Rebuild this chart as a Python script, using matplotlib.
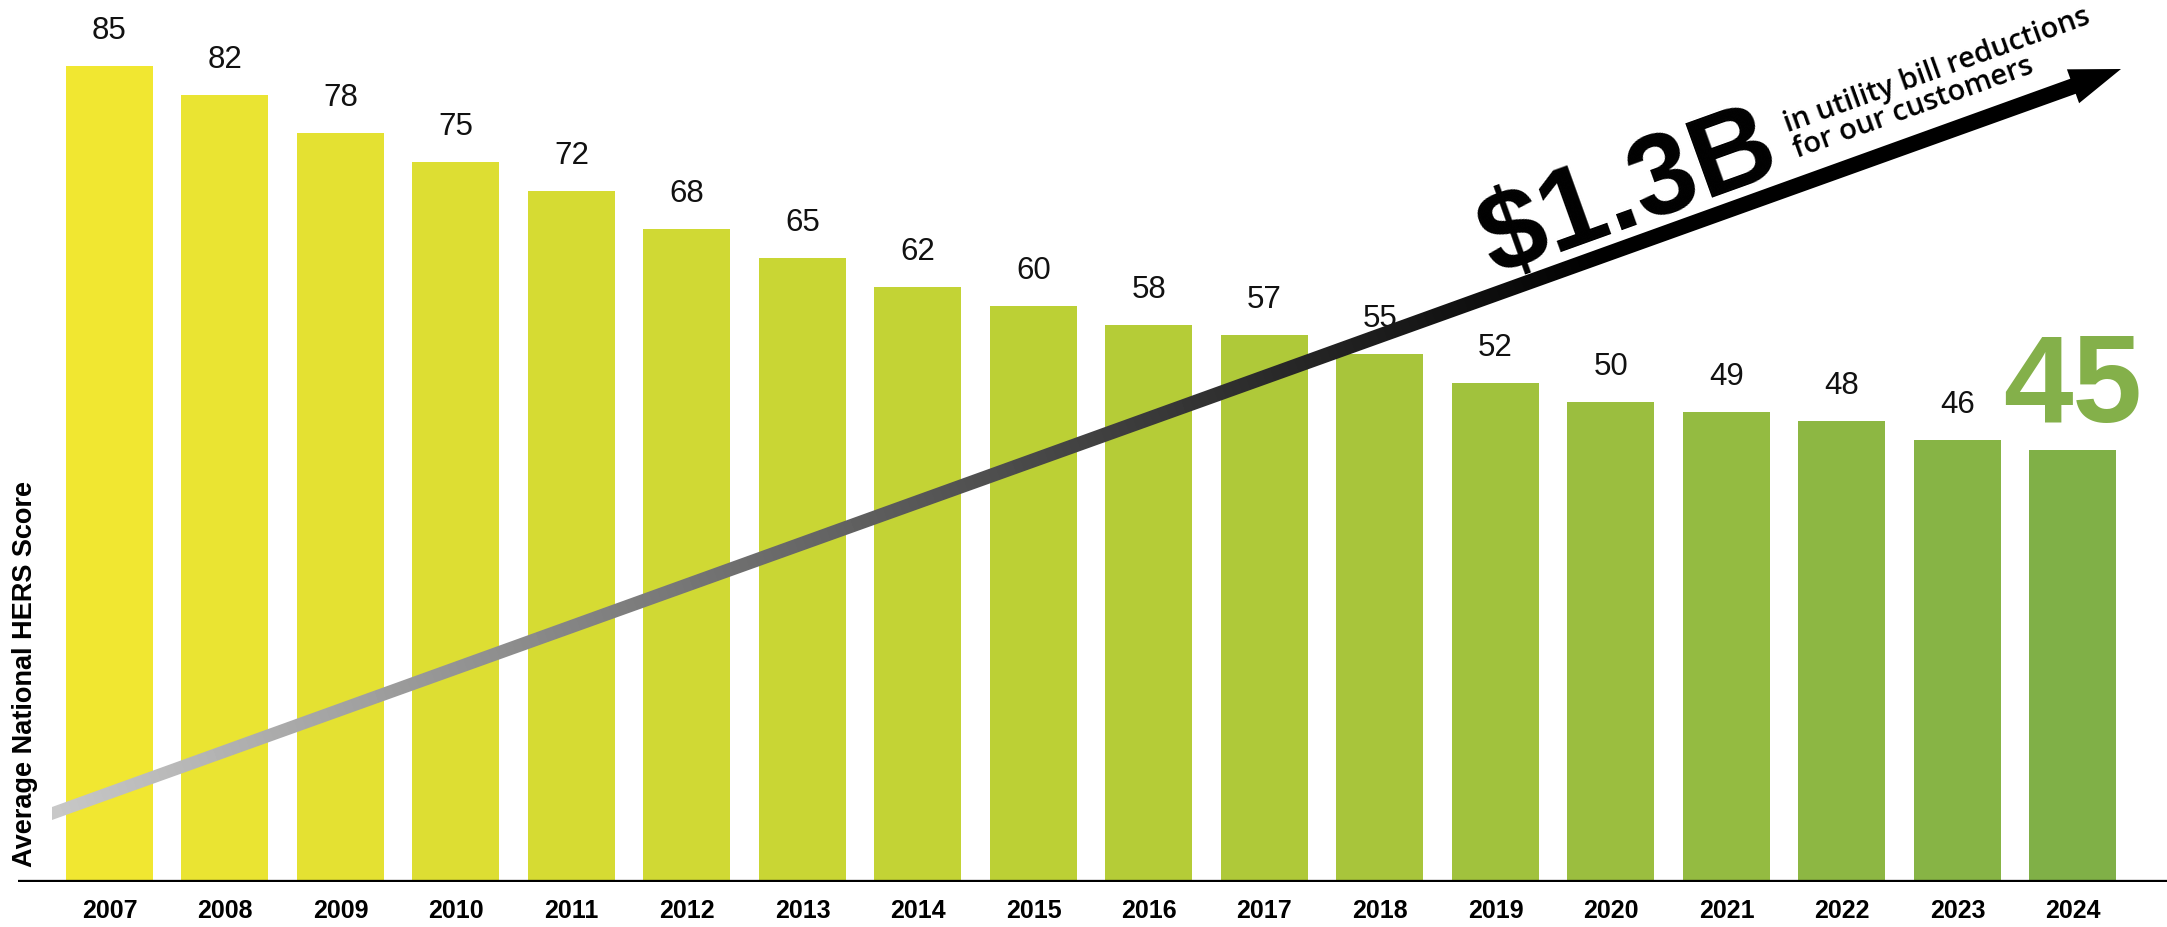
import matplotlib
matplotlib.use("Agg")
import matplotlib.pyplot as plt
import numpy as np
from matplotlib.colors import LinearSegmentedColormap
from matplotlib.patches import Polygon

years = ["2007", "2008", "2009", "2010", "2011", "2012", "2013", "2014", "2015",
         "2016", "2017", "2018", "2019", "2020", "2021", "2022", "2023", "2024"]
scores = [85, 82, 78, 75, 72, 68, 65, 62, 60, 58, 57, 55, 52, 50, 49, 48, 46, 45]
y_title = "Average National HERS Score"
callout_amount = "$1.3B"
callout_lines = ["in utility bill reductions", "for our customers"]

W, H = 2167, 927
FONT = "Liberation Sans"
GREEN = "#84b04a"
plt.rcParams["font.family"] = [FONT, "DejaVu Sans"]

fig = plt.figure(figsize=(W / 100, H / 100), dpi=100)
ax = fig.add_axes([18 / W, 45 / H, 1 - 18 / W, 882 / H])

bar_cmap = LinearSegmentedColormap.from_list(
    "hers", [(0, "#f1e731"), (0.47, "#bcd035"), (1, "#80b047")])
x = np.arange(len(years))
cols = bar_cmap(np.linspace(0, 1, len(years)))
ax.bar(x, scores, width=0.753, color=cols, zorder=2)
ax.set_xlim(-0.792, 17.814)
ax.set_ylim(0, 91.875)
for s in ax.spines.values():
    s.set_visible(False)
ax.axhline(0, color="black", lw=3.8, zorder=3)
ax.set_yticks([])
ax.set_xticks(x, years, fontsize=18, fontweight="bold")
ax.tick_params(axis="x", length=0, pad=12)
ax.set_ylabel(y_title, fontsize=19.5, fontweight="bold")
ax.yaxis.set_label_coords(0.0095, 0.236)

# value labels; the latest year gets the big green number
for i, v in enumerate(scores):
    if i == len(scores) - 1:
        ax.annotate(str(v), (i, v), xytext=(0, 20), textcoords="offset points",
                    ha="center", va="baseline", fontsize=90, fontweight="bold",
                    color=GREEN)
    else:
        ax.annotate(str(v), (i, v), xytext=(0, 19.5), textcoords="offset points",
                    ha="center", va="baseline", fontsize=22.5, color="#111111")

# overlay in pixel space for the savings arrow
ov = fig.add_axes([0, 0, 1, 1], zorder=5)
ov.patch.set_visible(False)
ov.axis("off")

tail = np.array([52.0, 813.5])
tip = np.array([2121.0, 69.0])
d = tip - tail
L = np.hypot(*d)
u = d / L
n = np.array([-u[1], u[0]])
base = tip - 51 * u
pts = [tail + [0, -6.5], base - 8 * n, base - 18 * n, tip,
       base + 18 * n, base + 8 * n, tail + [0, 6.5]]

gx, gy = np.meshgrid(np.linspace(0, W, 700), np.linspace(0, H, 300))
t = ((gx - tail[0]) * u[0] + (gy - tail[1]) * u[1]) / L
arrow_cmap = LinearSegmentedColormap.from_list(
    "arr", [(0, "#c8c8c8"), (0.53, "#3a3a3a"), (0.75, "#000000"), (1, "#000000")])
im = ov.imshow(t, cmap=arrow_cmap, vmin=0, vmax=1, extent=(0, W, H, 0),
               origin="upper", aspect="auto", interpolation="bilinear")
poly = Polygon(pts, closed=True, facecolor="none", edgecolor="none")
ov.add_patch(poly)
im.set_clip_path(poly)
ov.set_xlim(0, W)
ov.set_ylim(H, 0)

ang = np.degrees(np.arctan2(-d[1], d[0]))
ov.text(1494, 276, callout_amount, rotation=ang, rotation_mode="anchor",
        ha="left", va="baseline", fontsize=83, fontweight="bold", color="black")
for (px, py), line in zip([(1788, 132), (1797, 158)], callout_lines):
    ov.text(px, py, line, rotation=ang, rotation_mode="anchor", ha="left",
            va="baseline", fontsize=21, fontweight="semibold",
            family=["Open Sans", "DejaVu Sans"], color="black")

fig.savefig("out.png", dpi=100, facecolor="white")
